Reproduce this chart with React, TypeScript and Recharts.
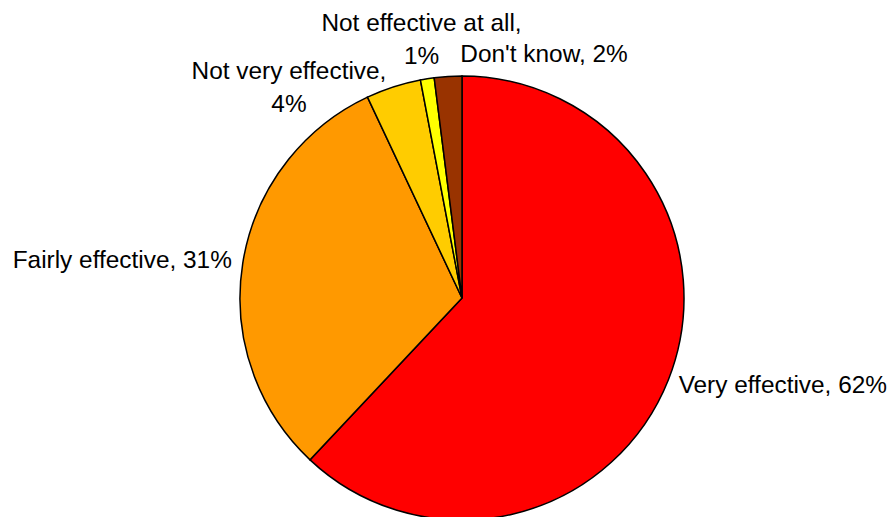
import { PieChart, Pie, Cell } from 'recharts';

// answers, in drawing order (clockwise from 12 o'clock)
const answers = ['Very effective', 'Fairly effective', 'Not very effective', 'Not effective at all', "Don't know"];
const shares = [62, 31, 4, 1, 2];
const colors = ['#FF0000', '#FF9900', '#FFCC00', '#FFFF00', '#993300'];

const data = answers.map((name, i) => ({ name, value: shares[i] }));

// where each label sits relative to the point just outside its slice
const labelLayout: Record<string, { anchor: 'start' | 'middle' | 'end'; dx: number; dy: number; split: boolean }> = {
  'Very effective': { anchor: 'start', dx: 0, dy: 9, split: false },
  'Fairly effective': { anchor: 'end', dx: 0, dy: 6, split: false },
  'Not very effective': { anchor: 'middle', dx: -101, dy: 3, split: true },
  'Not effective at all': { anchor: 'middle', dx: -4, dy: -37, split: true },
  "Don't know": { anchor: 'start', dx: 13, dy: -3, split: false },
};

const RADIAN = Math.PI / 180;
const LINE_HEIGHT = 33;

function renderLabel(props: any) {
  const { cx, cy, midAngle, outerRadius, name, value } = props;
  const r = outerRadius + 11;
  const x = cx + r * Math.cos(-midAngle * RADIAN);
  const y = cy + r * Math.sin(-midAngle * RADIAN);
  const layout = labelLayout[name];
  const lines = layout.split ? [`${name},`, `${value}%`] : [`${name}, ${value}%`];
  return (
    <text
      x={x + layout.dx}
      y={y + layout.dy}
      textAnchor={layout.anchor}
      fill="#000"
      fontSize={24.4}
      fontFamily="'Liberation Sans', Arial, sans-serif"
    >
      {lines.map((line, i) => (
        <tspan key={i} x={x + layout.dx} dy={i === 0 ? 0 : LINE_HEIGHT}>
          {line}
        </tspan>
      ))}
    </text>
  );
}

export default function App() {
  return (
    <div style={{ position: 'absolute', left: 0, top: 0, width: 893, height: 517, background: '#fff' }}>
      <PieChart width={893} height={517} margin={{ top: 0, right: 0, bottom: 0, left: 0 }}>
        <Pie
          data={data}
          dataKey="value"
          nameKey="name"
          cx={462}
          cy={298}
          outerRadius={222}
          startAngle={90}
          endAngle={-270}
          stroke="#000"
          strokeWidth={1.5}
          label={renderLabel}
          labelLine={false}
          isAnimationActive={false}
        >
          {data.map((d, i) => (
            <Cell key={d.name} fill={colors[i]} />
          ))}
        </Pie>
      </PieChart>
    </div>
  );
}
